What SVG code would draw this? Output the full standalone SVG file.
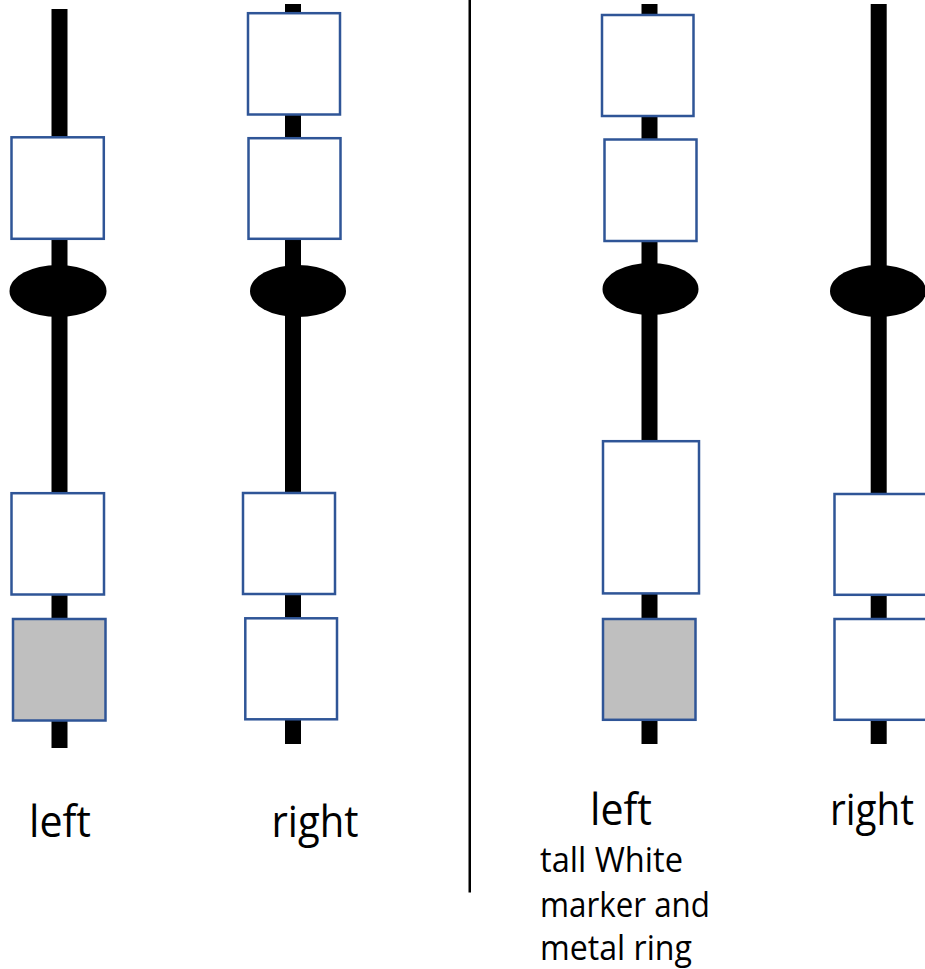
<svg xmlns="http://www.w3.org/2000/svg" width="925" height="969" viewBox="0 0 925 969">
  <style>
    .pole { fill: #000000; }
    .box { fill: #FFFFFF; stroke: #2F5597; stroke-width: 2.5; }
    .grey { fill: #BFBFBF; stroke: #2F5597; stroke-width: 2.5; }
    .ring { fill: #000000; }
    .big { font-family: "Open Sans", "Liberation Sans", sans-serif; font-size: 44px; fill: #000000; }
    .small { font-family: "Open Sans", "Liberation Sans", sans-serif; font-size: 35px; fill: #000000; }
  </style>
  <rect x="0" y="0" width="925" height="969" fill="#FFFFFF"/>

  <g id="connectors">
    <rect class="pole" x="51.5" y="9" width="16" height="739"/>
    <rect class="pole" x="285" y="4" width="16" height="740"/>
    <rect class="pole" x="641.5" y="4" width="16" height="740"/>
    <rect class="pole" x="870.7" y="4" width="16" height="740"/>
    <rect x="468.5" y="0" width="2.5" height="892.5" fill="#000000"/>
  </g>

  <g id="left-a">
    <rect class="box" x="11.5" y="137.3" width="92.3" height="101.5"/>
    <ellipse class="ring" cx="58" cy="291" rx="48.5" ry="26"/>
    <rect class="box" x="11.5" y="493.2" width="92.5" height="101.3"/>
    <rect class="grey" x="13" y="619" width="92.5" height="101.5"/>
  </g>

  <g id="right-a">
    <rect class="box" x="248" y="13.2" width="92" height="101.3"/>
    <rect class="box" x="248.5" y="138.2" width="92" height="100.6"/>
    <ellipse class="ring" cx="298" cy="291" rx="48" ry="26"/>
    <rect class="box" x="243" y="493" width="92" height="101"/>
    <rect class="box" x="245.3" y="618.3" width="91.7" height="101"/>
  </g>

  <g id="left-b">
    <rect class="box" x="602" y="15" width="91.5" height="101"/>
    <rect class="box" x="604.5" y="139.5" width="92" height="101.5"/>
    <ellipse class="ring" cx="650.5" cy="289" rx="48" ry="26"/>
    <rect class="box" x="603" y="441.2" width="96" height="152.2"/>
    <rect class="grey" x="603" y="619" width="92.5" height="100.8"/>
  </g>

  <g id="right-b">
    <ellipse class="ring" cx="878" cy="291" rx="48" ry="26"/>
    <rect class="box" x="834.5" y="494" width="93" height="100.8"/>
    <rect class="box" x="834.5" y="619" width="93" height="100.8"/>
  </g>

  <g id="labels">
    <text class="big" x="29" y="837" textLength="62" lengthAdjust="spacingAndGlyphs">left</text>
    <text class="big" x="271.5" y="837" textLength="87" lengthAdjust="spacingAndGlyphs">right</text>
    <text class="big" x="590" y="825" textLength="62" lengthAdjust="spacingAndGlyphs">left</text>
    <text class="big" x="830" y="825" textLength="84" lengthAdjust="spacingAndGlyphs">right</text>
    <text class="small" x="540" y="872" textLength="143" lengthAdjust="spacingAndGlyphs">tall White</text>
    <text class="small" x="540" y="917" textLength="170" lengthAdjust="spacingAndGlyphs">marker and</text>
    <text class="small" x="540" y="960" textLength="152" lengthAdjust="spacingAndGlyphs">metal ring</text>
  </g>
</svg>
